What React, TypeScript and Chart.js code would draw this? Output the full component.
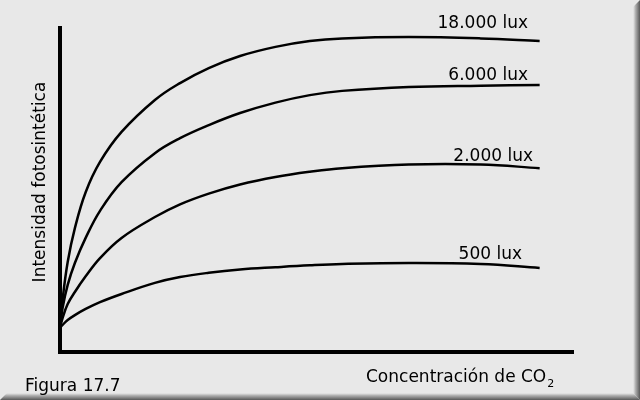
import React, { useEffect, useRef } from "react";
import { Chart, registerables } from "chart.js";

Chart.register(...registerables);

// CO2 concentration (arbitrary units, 0-100)
const concentration = [0, 0.5, 1.5, 2.9, 5, 7.8, 12, 18.5, 23.4, 29, 35.1, 42, 48.7, 55, 68, 82, 93.5];
// Photosynthetic intensity (arbitrary units, 0-100) per light level
const lux18000 = [7.4, 16.0, 27.6, 38.0, 49.0, 58.3, 67.5, 77.3, 82.5, 87.1, 90.8, 93.6, 95.4, 96.2, 96.6, 96.2, 95.4];
const lux6000 = [7.4, 13.5, 20.6, 27.3, 35.0, 43.3, 52.1, 61.0, 65.6, 69.6, 73.3, 76.5, 78.8, 80.1, 81.3, 81.7, 81.9];
const lux2000 = [7.4, 10.4, 14.7, 18.4, 23.2, 28.8, 35.0, 41.4, 45.3, 48.6, 51.4, 53.7, 55.3, 56.4, 57.5, 57.5, 56.4];
const lux500 = [7.4, 8.3, 9.8, 11.3, 13.2, 15.3, 17.8, 21.2, 23.0, 24.3, 25.3, 26.0, 26.6, 27.0, 27.3, 27.0, 25.8];
const seriesLabels = ["18.000 lux", "6.000 lux", "2.000 lux", "500 lux"];
const yTitle = "Intensidad fotosintética";
const xTitle = "Concentración de CO";
const xTitleSub = "2";
const figureLabel = "Figura 17.7";

const FONT = '"DejaVu Sans", Verdana, sans-serif';

const decorPlugin = {
  id: "decor",
  beforeDraw(chart: any) {
    const ctx = chart.ctx;
    const W = chart.width;
    const H = chart.height;
    ctx.save();
    ctx.fillStyle = "#e8e8e8";
    ctx.fillRect(0, 0, W, H);
    const gR = ctx.createLinearGradient(W - 7, 0, W, 0);
    gR.addColorStop(0, "rgba(200,200,200,0)");
    gR.addColorStop(0.3, "#b8b8b8");
    gR.addColorStop(1, "#585858");
    ctx.fillStyle = gR;
    ctx.beginPath();
    ctx.moveTo(W - 7, 7);
    ctx.lineTo(W, 0);
    ctx.lineTo(W, H);
    ctx.lineTo(W - 7, H - 7);
    ctx.closePath();
    ctx.fill();
    const gB = ctx.createLinearGradient(0, H - 7, 0, H);
    gB.addColorStop(0, "rgba(200,200,200,0)");
    gB.addColorStop(0.3, "#b8b8b8");
    gB.addColorStop(1, "#585858");
    ctx.fillStyle = gB;
    ctx.beginPath();
    ctx.moveTo(7, H - 7);
    ctx.lineTo(W - 7, H - 7);
    ctx.lineTo(W, H);
    ctx.lineTo(0, H);
    ctx.closePath();
    ctx.fill();
    ctx.restore();
  },
  beforeDatasetsDraw(chart: any) {
    const ctx = chart.ctx;
    const a = chart.chartArea;
    ctx.save();
    ctx.fillStyle = "#000";
    ctx.fillRect(a.left - 2, a.top, 4, a.bottom - a.top + 2);
    ctx.fillRect(a.left - 2, a.bottom - 2, a.right - a.left + 3, 4);
    ctx.restore();
  },
  afterDraw(chart: any) {
    const ctx = chart.ctx;
    ctx.save();
    ctx.fillStyle = "#000";
    ctx.font = `17px ${FONT}`;
    ctx.textBaseline = "alphabetic";
    ctx.textAlign = "right";
    const labelPos = [
      [528, 28],
      [528, 80],
      [533, 161],
      [522, 259],
    ];
    seriesLabels.forEach((t, i) => ctx.fillText(t, labelPos[i][0], labelPos[i][1]));

    ctx.textAlign = "left";
    ctx.fillText(figureLabel, 25, 391);
    ctx.fillText(xTitle, 366, 382);
    const w = ctx.measureText(xTitle).width;
    ctx.font = `11px ${FONT}`;
    ctx.fillText(xTitleSub, 366 + w + 1, 387);

    ctx.font = `17px ${FONT}`;
    ctx.translate(45, 182);
    ctx.rotate(-Math.PI / 2);
    ctx.textAlign = "center";
    ctx.fillText(yTitle, 0, 0);
    ctx.restore();
  },
};

export default function App() {
  const ref = useRef<HTMLCanvasElement | null>(null);
  useEffect(() => {
    if (!ref.current) return;
    const mk = (data: number[]) =>
      concentration.map((x, i) => ({ x, y: data[i] }));
    const ds = [lux18000, lux6000, lux2000, lux500].map((d, i) => ({
      label: seriesLabels[i],
      data: mk(d),
      borderColor: "#000",
      borderWidth: 2.5,
      pointRadius: 0,
      fill: false,
      tension: 0.4,
    }));
    const chart = new Chart(ref.current, {
      type: "line",
      data: { datasets: ds as any },
      options: {
        responsive: false,
        animation: false,
        devicePixelRatio: 1,
        layout: { padding: { left: 60, right: 67, top: 26, bottom: 48 } },
        scales: {
          x: { type: "linear", min: 0, max: 100, display: false },
          y: { type: "linear", min: 0, max: 100, display: false },
        },
        plugins: { legend: { display: false }, tooltip: { enabled: false } },
      },
      plugins: [decorPlugin],
    });
    return () => chart.destroy();
  }, []);
  return (
    <div style={{ position: "fixed", left: 0, top: 0, width: 640, height: 400 }}>
      <canvas ref={ref} width={640} height={400} style={{ display: "block" }} />
    </div>
  );
}
